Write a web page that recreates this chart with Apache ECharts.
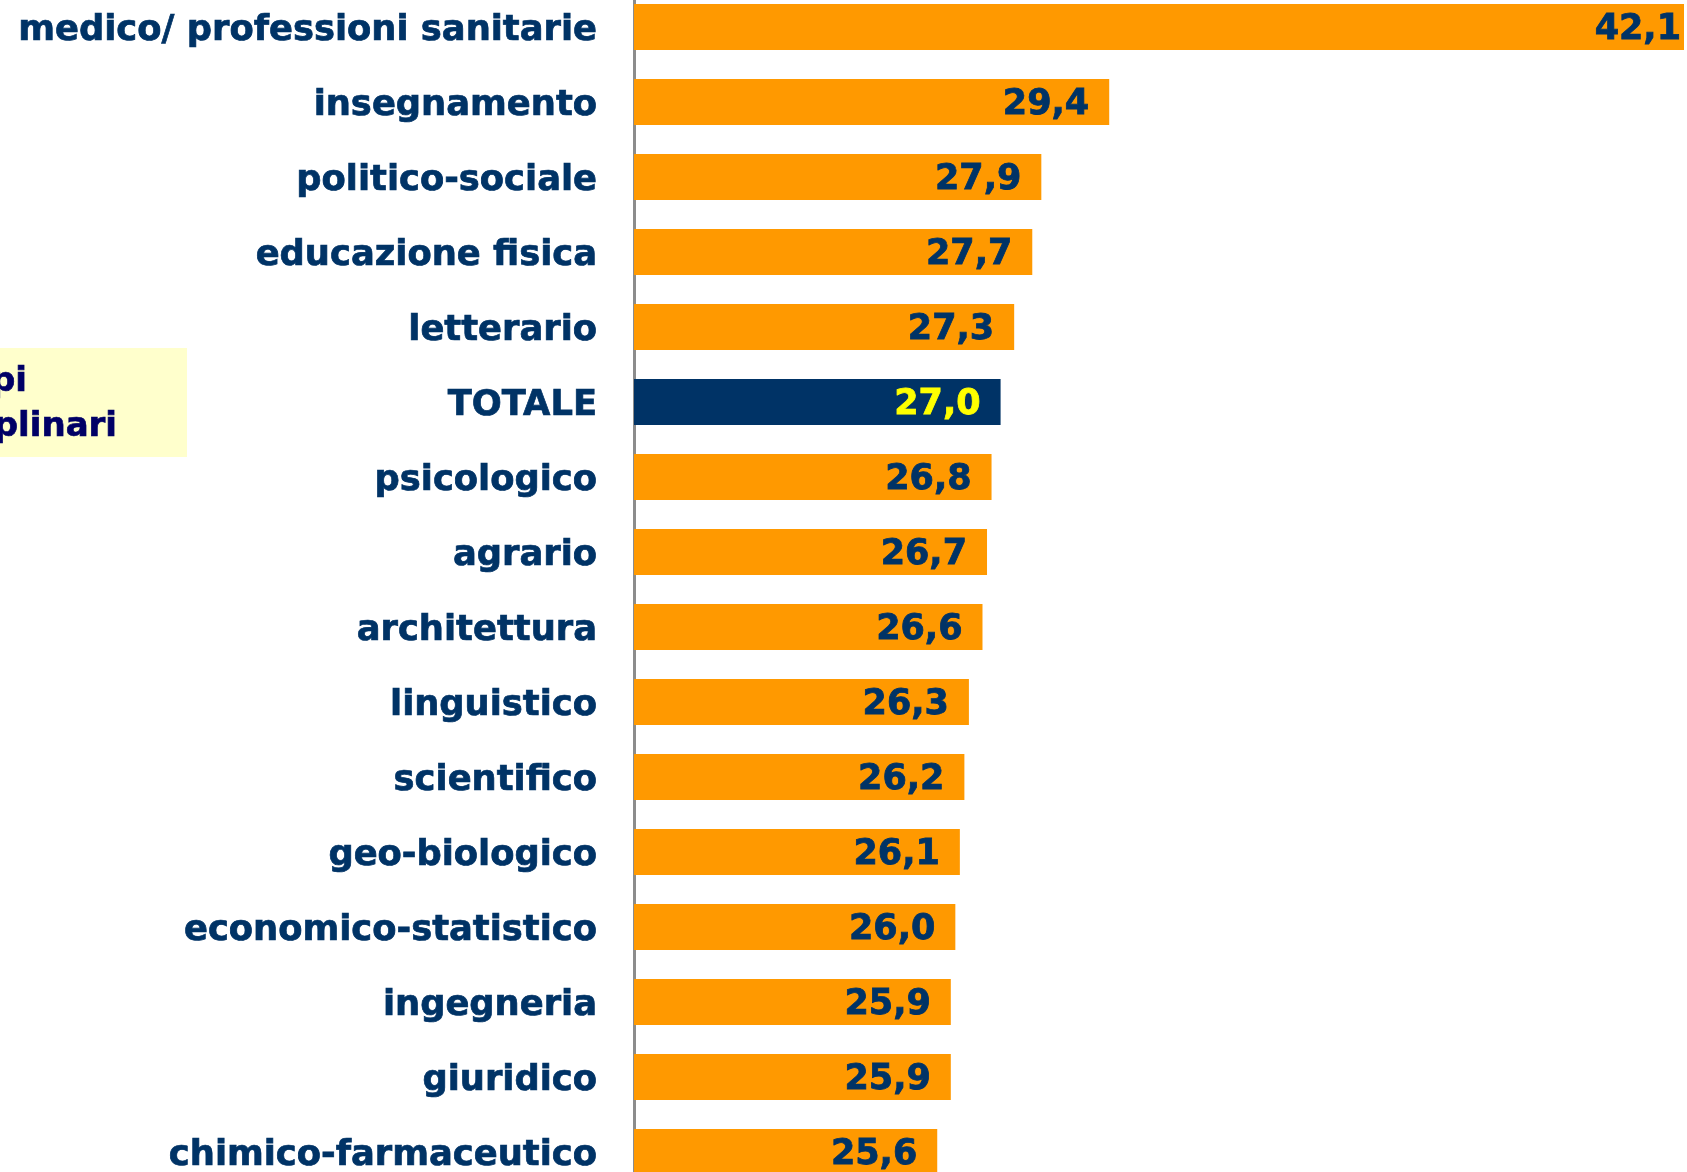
<!DOCTYPE html>
<html>
<head>
<meta charset="utf-8">
<script src="https://cdn.jsdelivr.net/npm/echarts@6/dist/echarts.min.js"></script>
<style>
  html, body { margin: 0; padding: 0; background: #fff; }
  #chart { width: 1687px; height: 1172px; }
</style>
</head>
<body>
<div id="chart"></div>
<script>
// gruppi disciplinari, dall'alto in basso
var categories = [
  'medico/ professioni sanitarie', 'insegnamento', 'politico-sociale',
  'educazione fisica', 'letterario', 'TOTALE', 'psicologico', 'agrario',
  'architettura', 'linguistico', 'scientifico', 'geo-biologico',
  'economico-statistico', 'ingegneria', 'giuridico', 'chimico-farmaceutico'
]
var values = [42.1, 29.4, 27.9, 27.7, 27.3, 27.0, 26.8, 26.7, 26.6, 26.3, 26.2, 26.1, 26.0, 25.9, 25.9, 25.6]
var totalLabel = 'TOTALE'

var navy = '#003366'
var orange = '#FF9900'

var chart = echarts.init(document.getElementById('chart'))

// il totale e' evidenziato in blu con etichetta gialla
var barData = values.map(function(v, i) {
  var isTot = categories[i] === totalLabel
  var item = {
    value: v,
    itemStyle: { color: isTot ? navy : orange },
    label: {
      color: isTot ? '#FFFF00' : navy,
      textBorderColor: isTot ? '#FFFF00' : navy
    }
  }
  if (i === 0) item.label.distance = 3
  return item
})

var option = {
  animation: false,
  backgroundColor: '#ffffff',
  grid: { left: 634, right: 3, top: -10.5, height: 1200, outerBoundsMode: 'none' },
  xAxis: {
    type: 'value',
    min: 18.9,
    max: 42.1,
    show: false
  },
  yAxis: {
    type: 'category',
    inverse: true,
    data: categories,
    axisLine: { show: true, lineStyle: { color: '#8c8c8c', width: 3 } },
    axisTick: { show: false },
    axisLabel: {
      margin: 37,
      formatter: function(v) {
        return '{c|' + v + '}'
      },
      rich: {
        c: {
          fontFamily: 'DejaVu Sans',
          fontWeight: 'bold',
          fontSize: 35.3,
          color: navy,
          textBorderColor: navy,
          textBorderWidth: 0.7,
          padding: [7, 0, 0, 0]
        }
      }
    }
  },
  series: [
    {
      type: 'bar',
      barWidth: 46,
      data: barData,
      label: {
        show: true,
        position: 'insideRight',
        distance: 20,
        offset: [0, 3],
        fontFamily: 'DejaVu Sans',
        fontWeight: 'bold',
        fontSize: 35,
        textBorderWidth: 0.8,
        formatter: function(p) {
          return p.value.toFixed(1).replace('.', ',')
        }
      }
    }
  ],
  // riquadro "Gruppi disciplinari" tagliato sul bordo sinistro
  graphic: [
    {
      type: 'rect',
      shape: { x: 0, y: 348, width: 187, height: 109 },
      style: { fill: '#FFFFCC' }
    },
    {
      type: 'text',
      x: 27,
      y: 382,
      style: {
        text: 'Gruppi',
        font: 'bold 34px "DejaVu Sans"',
        fill: '#000066',
        stroke: '#000066',
        lineWidth: 0.7,
        textAlign: 'right',
        textVerticalAlign: 'middle'
      }
    },
    {
      type: 'text',
      x: 117,
      y: 427,
      style: {
        text: 'disciplinari',
        font: 'bold 34px "DejaVu Sans"',
        fill: '#000066',
        stroke: '#000066',
        lineWidth: 0.7,
        textAlign: 'right',
        textVerticalAlign: 'middle'
      }
    }
  ]
}

chart.setOption(option)
</script>
</body>
</html>
